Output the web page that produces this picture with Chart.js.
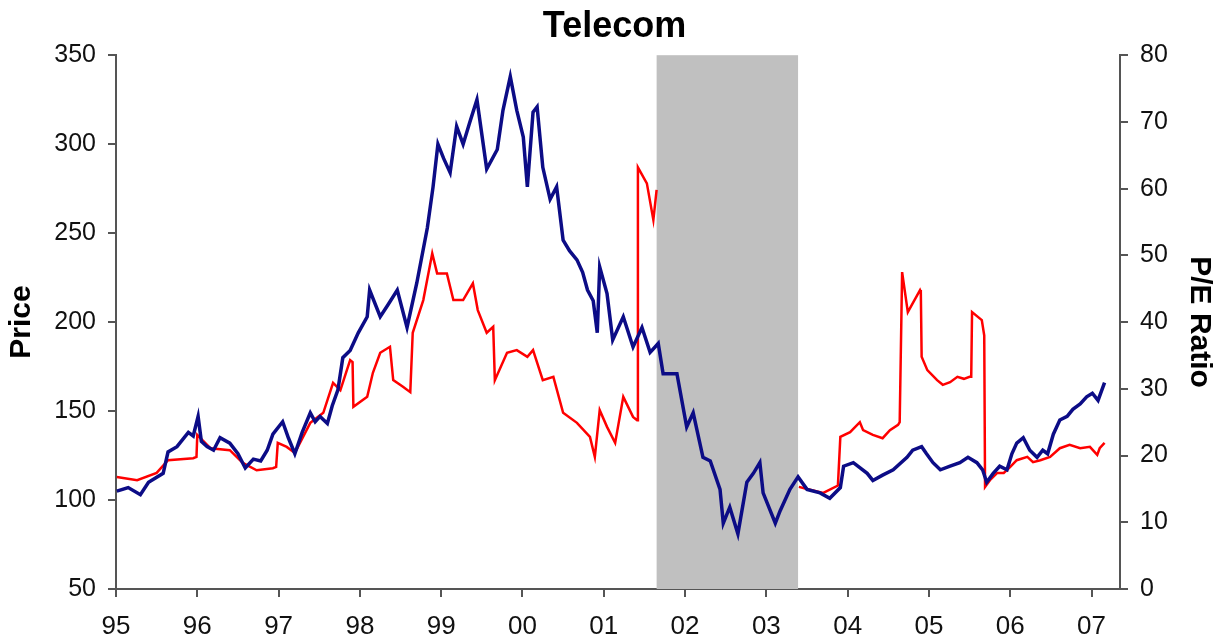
<!DOCTYPE html>
<html>
<head>
<meta charset="utf-8">
<script src="https://cdn.jsdelivr.net/npm/chart.js@4"></script>
<style>
  body { margin: 0; background: #fff; }
  #wrap { width: 1229px; height: 641px; }
</style>
</head>
<body>
<div id="wrap"><canvas id="myChart"></canvas></div>
<script>
// price (left axis)
var priceYears = [1995.01,1995.15,1995.30,1995.40,1995.58,1995.64,1995.75,1995.89,1995.95,1996.01,1996.05,1996.12,1996.20,1996.28,1996.40,1996.50,1996.59,1996.69,1996.78,1996.86,1996.93,1997.05,1997.12,1997.20,1997.29,1997.39,1997.45,1997.51,1997.60,1997.66,1997.73,1997.79,1997.88,1997.98,1998.09,1998.12,1998.25,1998.35,1998.46,1998.58,1998.70,1998.83,1998.90,1998.96,1999.03,1999.11,1999.19,1999.27,1999.35,1999.44,1999.56,1999.69,1999.76,1999.85,1999.93,2000.01,2000.06,2000.13,2000.18,2000.25,2000.34,2000.42,2000.50,2000.58,2000.67,2000.74,2000.80,2000.87,2000.92,2000.95,2001.04,2001.11,2001.24,2001.36,2001.47,2001.57,2001.67,2001.73,2001.90,2002.02,2002.10,2002.22,2002.31,2002.43,2002.47,2002.55,2002.65,2002.76,2002.84,2002.92,2002.96,2003.11,2003.17,2003.29,2003.39,2003.50,2003.66,2003.78,2003.91,2003.95,2004.07,2004.24,2004.31,2004.43,2004.56,2004.73,2004.80,2004.91,2004.97,2005.05,2005.14,2005.26,2005.38,2005.48,2005.59,2005.66,2005.71,2005.79,2005.87,2005.96,2006.02,2006.08,2006.16,2006.24,2006.33,2006.40,2006.46,2006.53,2006.61,2006.70,2006.77,2006.86,2006.94,2007.01,2007.08,2007.16];
var priceValues = [105,107,103,110,115,127,130,138,136,147,133,130,128,135,132,126,118,123,122,128,137,144,135,126,138,149,144,147,143,153,162,180,184,194,203,218,203,210,218,197,222,253,276,300,292,284,310,300,312,325,286,297,319,338,319,304,276,318,321,287,269,276,246,240,235,228,218,212,194,231,216,190,203,186,197,183,188,171,171,141,149,124,122,106,87,96,81,110,115,121,104,87,94,106,113,106,104,101,107,119,121,115,111,114,117,124,128,130,126,121,117,119,121,124,121,117,110,115,119,117,126,132,135,128,124,128,126,137,145,147,151,154,158,160,156,166];

// P/E ratio (right axis), null = no data
var peYears = [1995.01,1995.26,1995.50,1995.64,1995.95,1995.99,1996.00,1996.16,1996.40,1996.56,1996.73,1996.93,1996.97,1996.99,1997.10,1997.20,1997.39,1997.55,1997.67,1997.76,1997.88,1997.91,1997.92,1998.09,1998.16,1998.25,1998.37,1998.41,1998.53,1998.62,1998.65,1998.78,1998.89,1998.95,1999.07,1999.15,1999.27,1999.39,1999.45,1999.56,1999.64,1999.66,1999.81,1999.93,2000.06,2000.13,2000.25,2000.38,2000.50,2000.67,2000.83,2000.89,2000.95,2001.04,2001.14,2001.24,2001.36,2001.41,2001.42,2001.53,2001.61,2001.65,2001.70,2003.40,2003.50,2003.70,2003.88,2003.91,2004.03,2004.15,2004.19,2004.31,2004.43,2004.52,2004.62,2004.64,2004.67,2004.74,2004.89,2004.90,2004.91,2004.98,2005.10,2005.17,2005.26,2005.35,2005.43,2005.50,2005.52,2005.53,2005.65,2005.68,2005.69,2005.75,2005.84,2005.92,2006.00,2006.08,2006.21,2006.28,2006.37,2006.49,2006.61,2006.73,2006.86,2006.98,2007.07,2007.10,2007.16];
var peValues = [16.8,16.3,17.4,19.3,19.6,19.8,23.1,21.1,20.8,18.9,17.8,18.1,18.3,21.9,21.3,20.4,24.9,26.4,30.9,29.8,34.3,34.0,27.3,28.8,32.4,35.4,36.3,31.3,30.3,29.5,38.4,43.3,50.3,47.3,47.3,43.3,43.3,45.8,41.8,38.4,39.3,31.3,35.4,35.8,34.8,35.8,31.3,31.8,26.4,24.9,22.8,19.8,26.8,24.3,21.9,28.8,25.8,25.3,63.2,60.8,55.3,59.8,null,15.3,15.0,14.4,15.5,22.8,23.5,25.0,23.8,23.1,22.6,23.8,24.6,25.0,47.5,41.5,44.8,44.5,34.8,32.8,31.3,30.6,31.0,31.8,31.5,31.8,31.8,41.5,40.3,38.0,15.3,16.3,17.4,17.4,18.3,19.3,19.8,19.0,19.3,19.8,21.1,21.6,21.1,21.3,20.1,21.1,21.9];

var tickYears = [1995,1996,1997,1998,1999,2000,2001,2002,2003,2004,2005,2006,2007];
var tickLabels = ['95','96','97','98','99','00','01','02','03','04','05','06','07'];
var shadeStart = 2001.65;
var shadeEnd = 2003.39;

function toPoints(xs, ys) {
    var pts = [];
    for (let i = 0; i < xs.length; i++) {
        pts.push({ x: xs[i], y: ys[i] });
    }
    return pts;
}

var shadePlugin = {
    id: 'shade',
    beforeDatasetsDraw: function(chart) {
        var ctx = chart.ctx;
        var area = chart.chartArea;
        var x0 = chart.scales.x.getPixelForValue(shadeStart);
        var x1 = chart.scales.x.getPixelForValue(shadeEnd);
        ctx.save();
        ctx.fillStyle = '#c0c0c0';
        ctx.fillRect(x0, area.top, x1 - x0, area.bottom - area.top);
        ctx.restore();
    }
};

var tickFont = { family: 'Liberation Sans', size: 25 };
var axisTitleFont = { family: 'Liberation Sans', size: 30, weight: 'bold' };

new Chart(document.getElementById('myChart'), {
    type: 'line',
    data: {
        datasets: [
            {
                data: toPoints(priceYears, priceValues),
                yAxisID: 'y',
                borderColor: '#0c0c86',
                borderWidth: 3.5,
                pointRadius: 0,
                tension: 0
            },
            {
                data: toPoints(peYears, peValues),
                yAxisID: 'y1',
                borderColor: '#ff0000',
                borderWidth: 2.5,
                pointRadius: 0,
                tension: 0,
                spanGaps: false
            }
        ]
    },
    options: {
        responsive: true,
        maintainAspectRatio: false,
        animation: false,
        layout: { padding: 0 },
        plugins: {
            legend: { display: false },
            tooltip: { enabled: false },
            title: {
                display: true,
                text: 'Telecom',
                color: '#000',
                font: { family: 'Liberation Sans', size: 36, weight: 'bold' },
                padding: { top: 5, bottom: 7 }
            }
        },
        scales: {
            x: {
                type: 'linear',
                min: 1995,
                max: 2007.35,
                afterBuildTicks: function(scale) {
                    scale.ticks = tickYears.map(v => ({ value: v }));
                },
                afterFit: function(scale) { scale.height = 52; },
                ticks: {
                    color: '#111',
                    font: { family: 'Liberation Sans', size: 26 },
                    padding: 14,
                    maxRotation: 0,
                    callback: function(value) {
                        return tickLabels[tickYears.indexOf(value)];
                    }
                },
                grid: { drawOnChartArea: false, color: '#555', lineWidth: 2, tickLength: 8 },
                border: { color: '#555', width: 2 }
            },
            y: {
                position: 'left',
                min: 50,
                max: 350,
                afterFit: function(scale) { scale.width = 116; },
                ticks: { stepSize: 50, color: '#111', font: tickFont, padding: 12 },
                grid: { drawOnChartArea: false, color: '#555', lineWidth: 2, tickLength: 8 },
                border: { color: '#555', width: 2 },
                title: { display: true, text: 'Price', color: '#000', font: axisTitleFont, padding: { top: 4, bottom: 0 } }
            },
            y1: {
                position: 'right',
                min: 0,
                max: 80,
                afterFit: function(scale) { scale.width = 109; },
                ticks: { stepSize: 10, color: '#111', font: tickFont, padding: 12 },
                grid: { drawOnChartArea: false, color: '#555', lineWidth: 2, tickLength: 8 },
                border: { color: '#555', width: 2 },
                title: { display: true, text: 'P/E Ratio', color: '#000', font: axisTitleFont, padding: { top: 12, bottom: 0 } }
            }
        }
    },
    plugins: [shadePlugin]
});
</script>
</body>
</html>
